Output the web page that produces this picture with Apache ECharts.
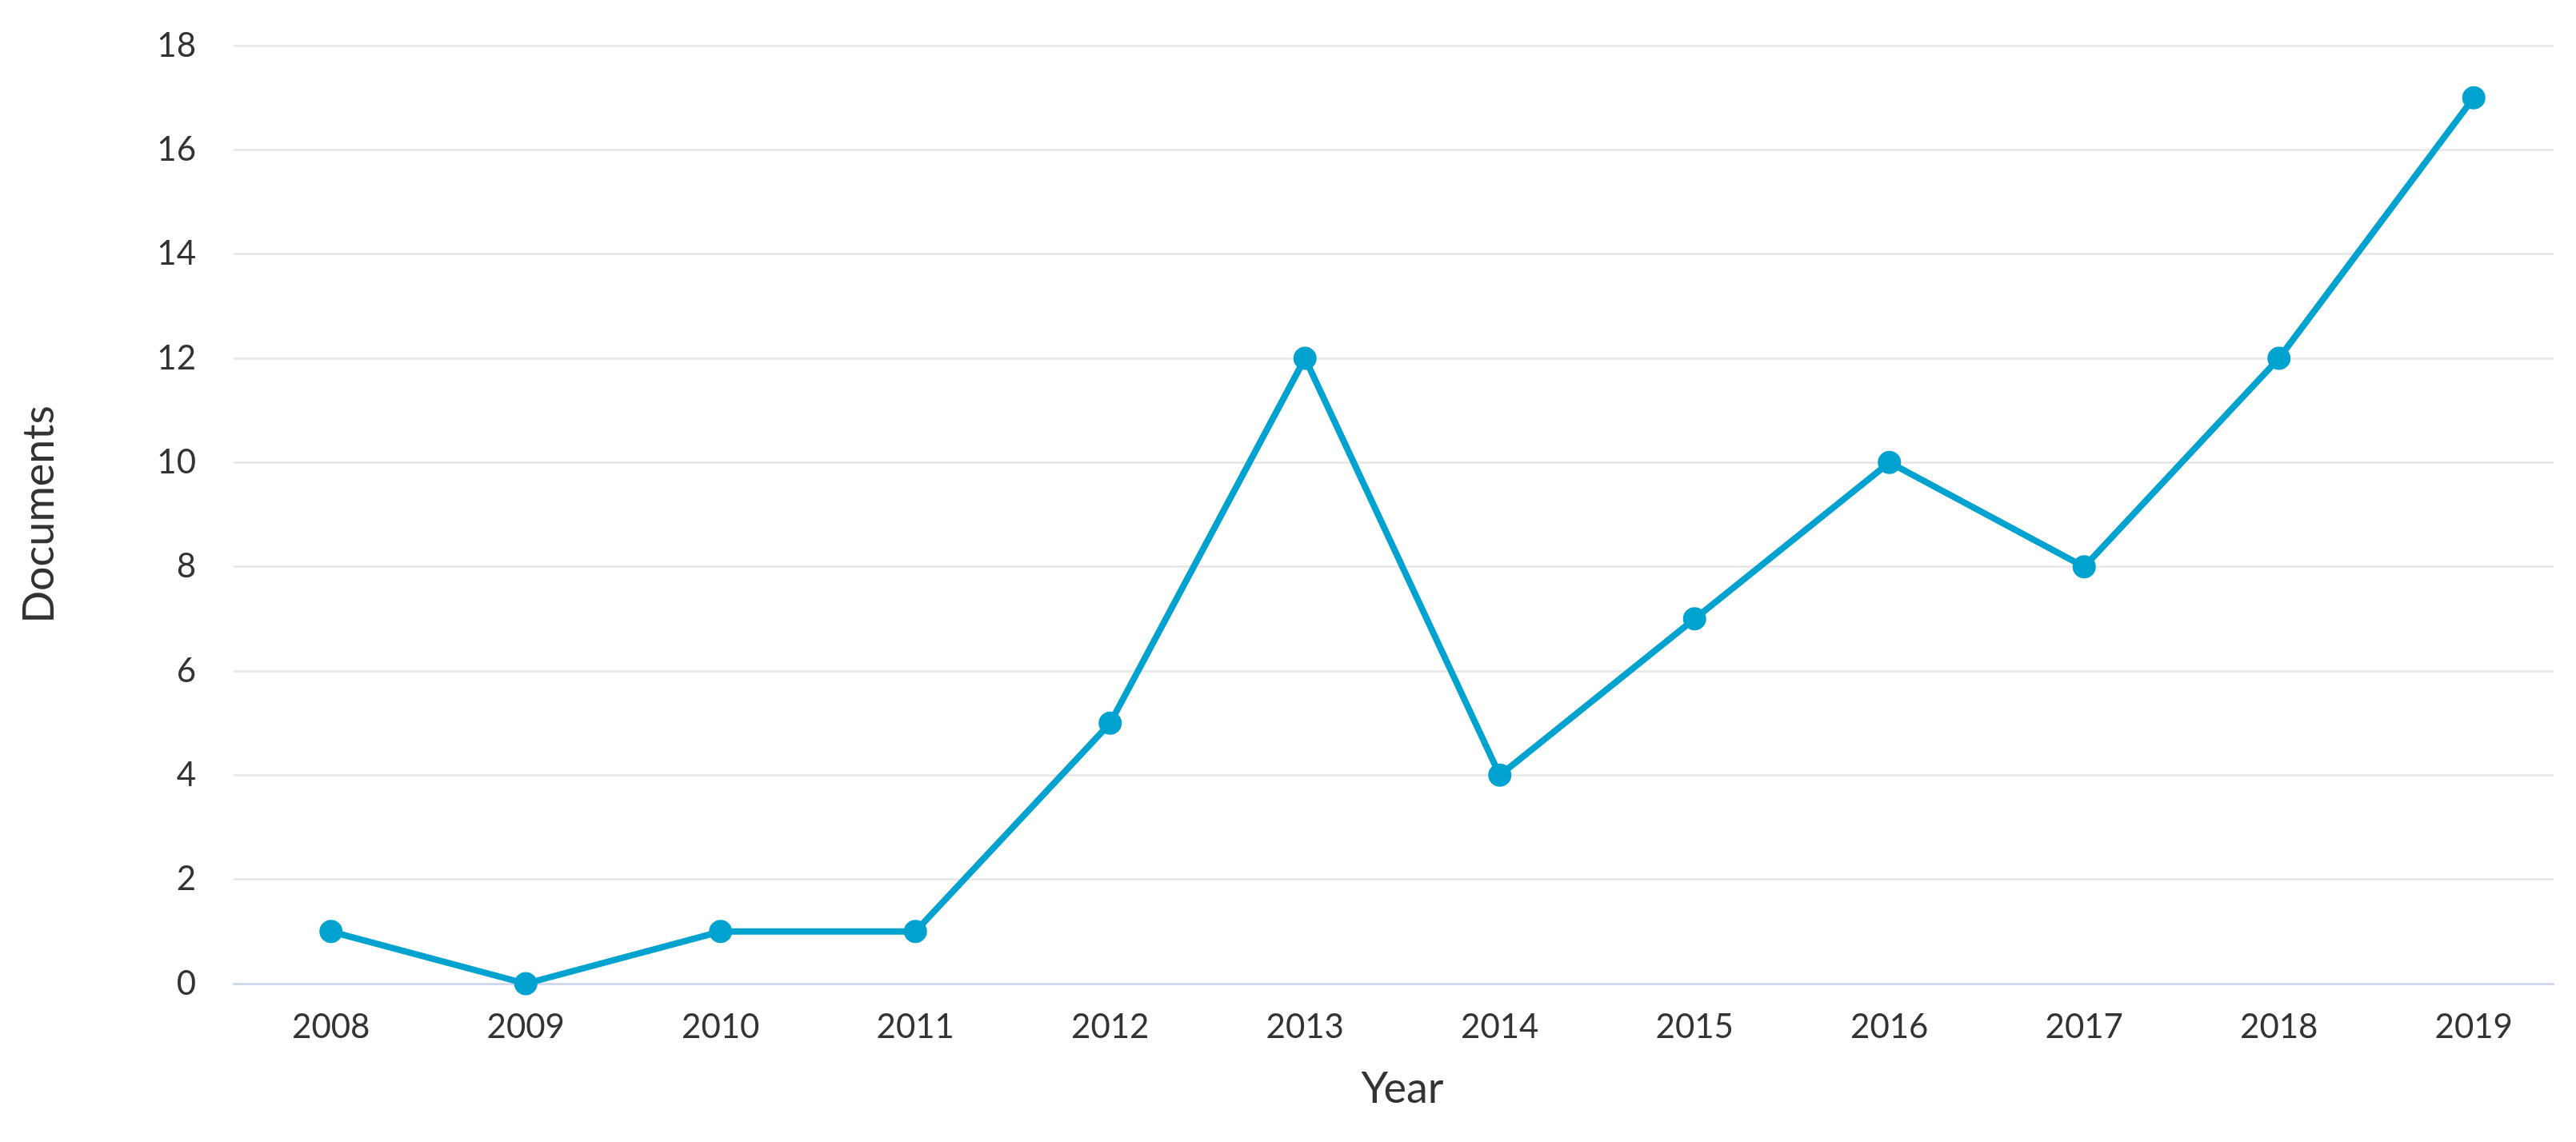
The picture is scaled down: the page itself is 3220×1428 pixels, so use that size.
<!DOCTYPE html>
<html>
<head>
<meta charset="utf-8">
<style>
  html, body { margin: 0; padding: 0; background: #ffffff; }
  #chart { width: 3220px; height: 1428px; }
</style>
<script src="https://cdn.jsdelivr.net/npm/echarts@6/dist/echarts.min.js"></script>
</head>
<body>
<div id="chart"></div>
<script>
const years = ['2008', '2009', '2010', '2011', '2012', '2013', '2014', '2015', '2016', '2017', '2018', '2019'];
const documents = [1, 0, 1, 1, 5, 12, 4, 7, 10, 8, 12, 17];
const yMin = 0;
const yMax = 18;
const yStep = 2;

const FONT = 'Lato, "Noto Sans", sans-serif';
const chart = echarts.init(document.getElementById('chart'), null, { renderer: 'canvas' });

chart.setOption({
  animation: false,
  backgroundColor: '#ffffff',
  grid: [
    { left: 292, right: 28, top: 57, bottom: 198, containLabel: false },
    { left: 292, right: 6, top: 57, bottom: 198, containLabel: false }
  ],
  xAxis: [
    {
      gridIndex: 0,
      type: 'value',
      min: 0,
      max: 1,
      axisLine: { show: true, lineStyle: { color: '#ccd6eb', width: 2.5 } },
      axisTick: { show: false },
      axisLabel: { show: false },
      splitLine: { show: false }
    },
    {
      gridIndex: 1,
      type: 'category',
      data: years,
      boundaryGap: true,
      axisLine: { show: false },
      axisTick: { show: false },
      axisLabel: { color: '#333333', fontSize: 42, fontFamily: FONT, margin: 33 },
      splitLine: { show: false },
      name: 'Year',
      nameLocation: 'middle',
      nameGap: 105,
      nameTextStyle: { color: '#333333', fontSize: 54, fontFamily: FONT }
    }
  ],
  yAxis: [
    {
      gridIndex: 0,
      type: 'value',
      min: yMin,
      max: yMax,
      interval: yStep,
      axisLine: { show: false },
      axisTick: { show: false },
      axisLabel: { color: '#333333', fontSize: 42, fontFamily: FONT, margin: 47 },
      splitLine: { show: true, lineStyle: { color: '#e6e6e6', width: 2.5 } },
      name: 'Documents',
      nameLocation: 'middle',
      nameRotate: 90,
      nameGap: 215,
      nameTextStyle: { color: '#333333', fontSize: 54, fontFamily: FONT }
    },
    {
      gridIndex: 1,
      type: 'value',
      min: yMin,
      max: yMax,
      interval: yStep,
      show: false,
      splitLine: { show: false }
    }
  ],
  series: [
    {
      type: 'line',
      xAxisIndex: 1,
      yAxisIndex: 1,
      data: documents,
      symbol: 'circle',
      symbolSize: 29,
      showSymbol: true,
      lineStyle: { color: '#00a2d0', width: 8 },
      itemStyle: { color: '#00a2d0' },
      z: 5
    }
  ]
});
</script>
</body>
</html>
